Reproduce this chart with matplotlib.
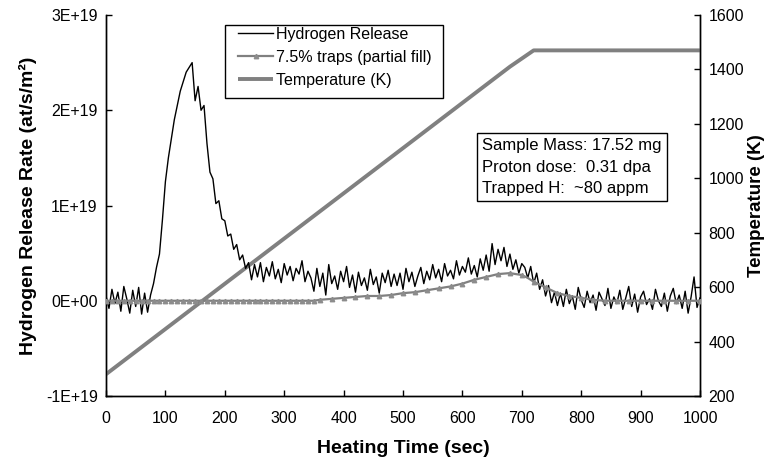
import numpy as np
import matplotlib
matplotlib.use("Agg")
import matplotlib.pyplot as plt
from matplotlib.patches import Rectangle

plt.rcParams['font.family'] = ['Liberation Sans', 'DejaVu Sans']

# ---- data ----
# Measured hydrogen release rate, units of 1E18 at/s/m^2, sampled every 5 s (0..1000 s)
release_time = np.arange(0, 1001, 5)
release_rate_e18 = [
    0.5, -0.8, 1.2, -0.3, 0.9, -1.1, 1.5, 0.2, -1.3, 1.1, -0.6, 1.4, -1.4, 0.8, -1.2, 0.6,
    1.8, 3.5, 4.9, 8.5, 12.5, 15.0, 17.0, 19.0, 20.5, 22.0, 23.0, 24.0, 24.5, 25.0,
    21.0, 22.5, 20.0, 20.5, 16.5, 13.5, 12.8, 10.2, 10.5, 8.6, 8.4, 6.8, 7.0, 5.4, 5.9, 4.3, 4.8, 3.4, 4.0,
    2.2, 3.8, 2.5, 4.0, 2.0, 3.5, 2.6, 4.1, 2.3, 3.3, 1.9, 3.9, 2.7, 3.6, 2.1, 3.4, 2.8, 4.2, 2.0, 3.1, 2.4,
    1.0, 3.4, 1.5, 2.9, 0.6, 3.8, 1.8, 2.6, 1.2, 3.1, 2.0, 3.6, 1.4, 2.7, 0.9, 3.0, 1.6, 2.4, 1.1, 3.3,
    1.7, 2.5, 0.8, 2.9, 1.9, 3.2, 1.5,
    2.8, 1.6, 2.9, 1.2, 3.4, 2.0, 3.0, 1.5, 2.6, 3.5, 1.8, 3.1, 2.2, 3.8, 2.4, 3.3, 2.0, 3.9, 2.6, 3.2,
    2.3, 4.2, 2.7, 3.6,
    3.0, 4.5, 2.8, 3.7, 2.5, 4.4, 3.2, 4.8, 3.1, 6.0, 3.8, 5.4, 4.2, 5.6, 3.6, 4.9, 3.3, 4.3, 2.9, 3.9,
    3.5, 2.4, 3.6, 1.8, 2.9, 1.2, 2.2, 0.5, 1.6, -0.2, 0.9, -0.5,
    0.8, -0.6, 1.2, -0.3, 0.5, -0.9, 1.4, 0.1, -0.7, 1.0, -0.2, 0.6, -1.0, 0.9, 0.2, -0.5, 1.3, -0.8,
    0.4, -0.3, 1.1, -0.9, 0.3, 1.5, -0.6, 0.7, -1.2, 0.4, 1.0, -0.4, 0.2, -0.9, 1.2, 0.0, -0.6, 0.8,
    -1.1, 0.5, 1.3, -0.3, 0.6, -0.8, 1.0, -1.3, 0.4, 2.5, -0.7, 0.3,
]

# Model: 7.5% traps (partial fill), units of 1E18, every 10 s
model_time = np.arange(0, 1001, 10)
model_rate_e18 = (
    [0.0] * 36 +
    [0.1, 0.15, 0.2, 0.25, 0.3, 0.35, 0.4, 0.45, 0.5, 0.5, 0.5, 0.55, 0.6, 0.7, 0.8, 0.85, 0.9, 1.0,
     1.1, 1.2, 1.3, 1.4, 1.5, 1.65, 1.8, 2.0, 2.2, 2.35, 2.5, 2.65, 2.8, 2.85, 2.9, 2.8, 2.7, 2.4,
     2.0, 1.7, 1.4, 1.1, 0.8, 0.65, 0.5, 0.4, 0.3, 0.2, 0.1, 0.05] +
    [0.0] * 17
)

# Temperature ramp (K)
temp_time = [0, 680, 700, 720, 1000]
temp_K = [280, 1410, 1440, 1470, 1470]

x_ticks = [0, 100, 200, 300, 400, 500, 600, 700, 800, 900, 1000]
left_ticks = [-1e19, 0, 1e19, 2e19, 3e19]
left_labels = ["-1E+19", "0E+00", "1E+19", "2E+19", "3E+19"]
right_ticks = [200, 400, 600, 800, 1000, 1200, 1400, 1600]

info_text = "Sample Mass: 17.52 mg\nProton dose:  0.31 dpa\nTrapped H:  ~80 appm"

# ---- figure ----
W, H = 769, 462
fig = plt.figure(figsize=(W / 100, H / 100), dpi=100)
ax = fig.add_axes([106 / W, 1 - 396 / H, (700 - 106) / W, (396 - 15) / H])
ax2 = ax.twinx()

rel = np.array(release_rate_e18) * 1e18
mod = np.array(model_rate_e18) * 1e18

l1, = ax.plot(release_time, rel, color='black', lw=1.0, label='Hydrogen Release', zorder=3)
mk_idx = list(range(0, 36)) + list(range(36, len(model_time), 2))
l2, = ax.plot(model_time, mod, color='#808080', lw=1.6, marker='^', markersize=3.2,
              markerfacecolor='#8c8c8c', markeredgecolor='#8c8c8c', markevery=mk_idx,
              label='7.5% traps (partial fill)', zorder=4)
l3, = ax2.plot(temp_time, temp_K, color='#808080', lw=2.8, label='Temperature (K)', zorder=5,
               solid_capstyle='butt')

ax.set_xlim(0, 1000)
ax.set_ylim(-1e19, 3e19)
ax2.set_ylim(200, 1600)
ax.set_xticks(x_ticks)
ax.set_xticklabels([str(v) for v in x_ticks])
ax.set_yticks(left_ticks)
ax.set_yticklabels(left_labels)
ax2.set_yticks(right_ticks)
ax2.set_yticklabels([str(v) for v in right_ticks])

for a in (ax, ax2):
    a.spines['top'].set_visible(False)
    for s in a.spines.values():
        s.set_linewidth(1.0)
        s.set_color('black')
    a.tick_params(direction='in', length=4, width=1, labelsize=11.5, colors='black')
ax.tick_params(axis='x', pad=11)
ax.tick_params(axis='y', pad=6)
ax2.tick_params(axis='y', pad=6)

ax.set_xlabel('Heating Time (sec)', fontsize=14, fontweight='bold', labelpad=10)
ax.set_ylabel('Hydrogen Release Rate (at/s/m²)', fontsize=14, fontweight='bold', labelpad=6)
ax2.set_ylabel('Temperature (K)', fontsize=13.5, fontweight='bold', labelpad=3)

leg = ax.legend(handles=[l1, l2, l3], loc='upper left',
                bbox_to_anchor=(238 / W, 1 - 27 / H), bbox_transform=fig.transFigure,
                borderaxespad=0, borderpad=0, fontsize=11.5, frameon=False,
                handlelength=2.2, handletextpad=0.2, labelspacing=0.5)
leg.set_zorder(10)
fig.patches.append(Rectangle((225 / W, 1 - 98 / H), (443 - 225) / W, (98 - 25) / H,
                             transform=fig.transFigure, fill=True, fc='white', ec='black',
                             lw=1.0, zorder=0))
ax.set_zorder(ax2.get_zorder() + 1)
ax.patch.set_visible(False)

fig.text(482 / W, 1 - 138 / H, info_text, ha='left', va='top', fontsize=12.0, linespacing=1.55,
         bbox=dict(boxstyle='square,pad=0.3', fc='white', ec='black', lw=1.0))

fig.savefig('out.png', dpi=100)
